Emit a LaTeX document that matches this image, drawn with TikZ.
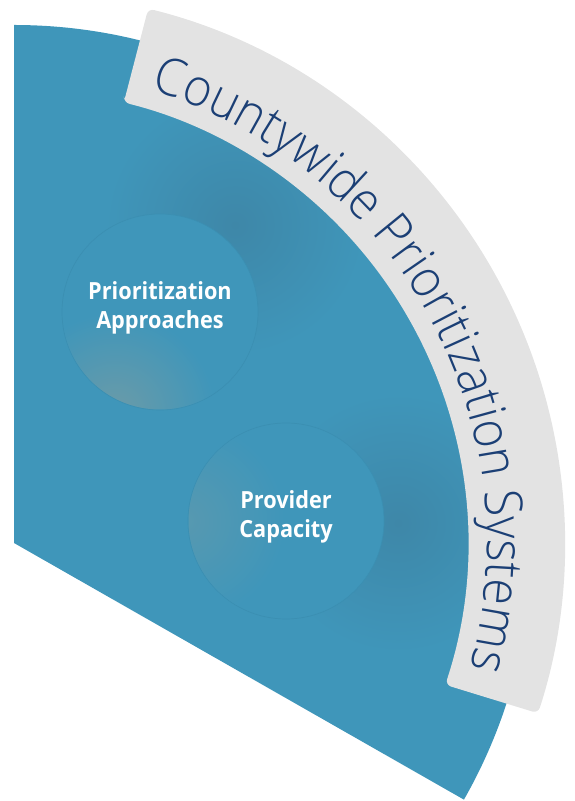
\documentclass[tikz,border=0pt]{standalone}
\usepackage{fontspec}
\usetikzlibrary{calc,decorations.text}
\setmainfont{Open Sans}
\newfontfamily\titlefont[FakeStretch=0.925]{Open Sans Light}
\newfontfamily\labelfont[FakeStretch=0.92]{Open Sans}
\definecolor{sectorblue}{HTML}{3F96BA}
\definecolor{shadeblue}{HTML}{3E87A8}
\definecolor{ringblue}{HTML}{3B8FB2}
\definecolor{tintblue}{HTML}{6B9BA8}
\definecolor{bandgrey}{HTML}{E3E3E3}
\definecolor{titlenavy}{HTML}{1B3F75}
\tikzset{
  topic/.style={circle,minimum size=196pt,inner sep=0pt,draw=ringblue,line width=0.7pt,
    text=white,align=center,font=\labelfont\fontsize{23.6}{29}\selectfont\bfseries},
}
\begin{document}
\begin{tikzpicture}[x=1pt,y=1pt]
\useasboundingbox (0,0) rectangle (575,801);
\coordinate (C) at (14,258);
% sector
\path[fill=sectorblue] (C) -- ($(C)+(90:518)$) arc[start angle=90,end angle=-29.7,radius=518pt] -- cycle;
% cast shadows
\begin{scope}
\clip (C) -- ($(C)+(90:518)$) arc[start angle=90,end angle=-29.7,radius=518pt] -- cycle;
\shade[inner color=shadeblue,outer color=sectorblue] (235,576) circle[radius=130pt];
\shade[inner color=shadeblue,outer color=sectorblue] (398,278) circle[radius=130pt];
\end{scope}
% circles
\node[topic,fill=sectorblue] (pa) at (160,489) {};
\node[topic,fill=sectorblue] (pc) at (286,280) {};
\begin{scope}
\clip (160,489) circle[radius=97.5pt];
\shade[inner color=tintblue,outer color=sectorblue] (115,388) circle[radius=100pt];
\end{scope}
\begin{scope}
\clip (286,280) circle[radius=97.5pt];
\shade[inner color=tintblue!55!sectorblue,outer color=sectorblue] (185,280) circle[radius=100pt];
\end{scope}
\node[topic,draw=none,yshift=4pt] at (pa) {Prioritization\\Approaches};
\node[topic,draw=none,yshift=4pt] at (pc) {Provider\\Capacity};
% band
\path[fill=bandgrey,rounded corners=6pt]
  ($(C)+(76:454)$) -- ($(C)+(75.9:551)$) arc[start angle=75.9,end angle=-18,radius=551pt]
  -- ($(C)+(-18.2:454)$) arc[start angle=-18.2,end angle=76,radius=454pt] -- cycle;
% title
\path[decorate,decoration={text along path,text align=left,
  text={|\titlefont\fontsize{52}{52}\selectfont\color{titlenavy}|Countywide Prioritization Systems}}]
  ($(C)+(73.2:473)$) arc[start angle=73.2,end angle=-25,radius=473pt];
\end{tikzpicture}
\end{document}
